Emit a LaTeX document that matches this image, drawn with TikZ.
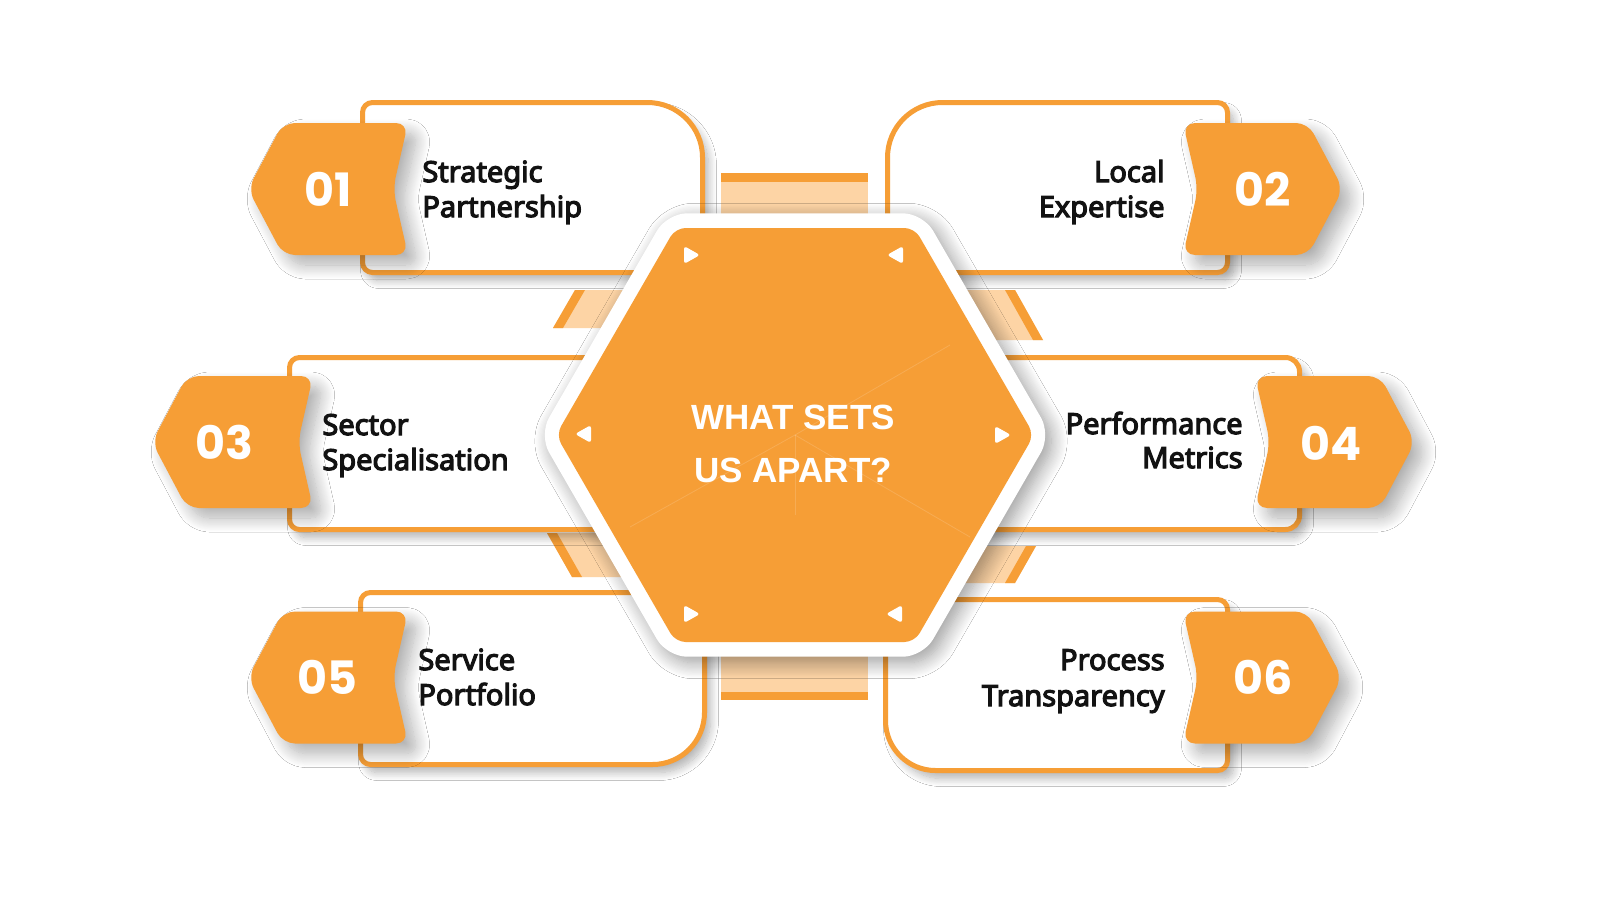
\documentclass[tikz,border=0pt]{standalone}
\usepackage{fontspec}
\setmainfont{Noto Sans}
\newfontfamily\cardfont{Noto Sans}[FakeBold=4]
\newfontfamily\hexfont{Liberation Sans}
\newfontfamily\numfont{Poppins}
\usetikzlibrary{shadows.blur}
\definecolor{orng}{RGB}{246,158,54}
\definecolor{peach}{RGB}{253,212,165}
\definecolor{ink}{RGB}{18,18,18}
\tikzset{
  cardbox/.style={draw=orng, line width=2.5pt, fill=white,
    blur shadow={shadow xshift=3pt, shadow yshift=-4pt, shadow blur radius=4pt, shadow blur steps=12, shadow opacity=30}},
  badgebox/.style={fill=orng, rounded corners=6pt,
    blur shadow={shadow xshift=5pt, shadow yshift=-5pt, shadow blur radius=7pt, shadow blur steps=16, shadow opacity=32}},
  hexouter/.style={fill=white, rounded corners=10pt,
    blur shadow={shadow xshift=3pt, shadow yshift=-3pt, shadow blur radius=8pt, shadow blur steps=14, shadow opacity=40}},
  hexinner/.style={fill=orng, rounded corners=5pt},
  numtext/.style={text=white, font=\numfont\bfseries\fontsize{23}{23}\selectfont, inner sep=0},
  cardtext/.style={text=ink, font=\cardfont\fontsize{14.5}{17.5}\selectfont, inner sep=0},
  hextext/.style={text=white, font=\hexfont\bfseries\fontsize{17.5}{26.5}\selectfont, inner sep=0},
  armfill/.style={fill=peach},
  armstripe/.style={fill=orng},
  tri/.style={fill=white, rounded corners=1.5pt},
  faint/.style={draw=white, opacity=0.15, line width=0.4pt},
}
% card: x1 y1 x2 y2 rTL rTR rBR rBL (pixel coords, y down)
\newcommand\cardshape[8]{%
  \draw[cardbox] (#1,#2+#5) arc[start angle=180,end angle=270,radius=#5]
    -- (#3-#6,#2) arc[start angle=270,end angle=360,radius=#6]
    -- (#3,#4-#7) arc[start angle=0,end angle=90,radius=#7]
    -- (#1+#8,#4) arc[start angle=90,end angle=180,radius=#8] -- cycle;}
% badge pointing left: tipx rightx yc
\newcommand\badgeleft[3]{%
  \fill[badgebox] (#1,#3) -- (#1+35,#3-66) -- (#2,#3-66) -- (#2-15,#3)
    -- (#2,#3+66) -- (#1+35,#3+66) -- cycle;}
% badge pointing right: leftx tipx yc
\newcommand\badgeright[3]{%
  \fill[badgebox] (#2,#3) -- (#2-35,#3-66) -- (#1,#3-66) -- (#1+15,#3)
    -- (#1,#3+66) -- (#2-35,#3+66) -- cycle;}
\newcommand\triR[2]{\fill[tri] (#1-7,#2-9) -- (#1+9,#2) -- (#1-7,#2+9) -- cycle;}
\newcommand\triL[2]{\fill[tri] (#1+7,#2-9) -- (#1-9,#2) -- (#1+7,#2+9) -- cycle;}

\begin{document}
\begin{tikzpicture}[x=0.5pt, y=-0.5pt]
\useasboundingbox (0,0) rectangle (1600,900);
\fill[white] (0,0) rectangle (1600,900);

% ---- arms behind everything ----
\fill[armfill] (721,182) rectangle (868,320);
\fill[armstripe] (721,173) rectangle (868,182);
\fill[armfill] (721,560) rectangle (868,692);
\fill[armstripe] (721,692) rectangle (868,700);
% upper-left
\fill[armfill] (553,328) -- (575,290) -- (700,290) -- (700,328) -- cycle;
\fill[armstripe] (553,328) -- (575,290) -- (585,290) -- (563,328) -- cycle;
% upper-right
\fill[armfill] (1043,340) -- (1015,290) -- (900,290) -- (900,340) -- cycle;
\fill[armstripe] (1043,340) -- (1015,290) -- (1005,290) -- (1033,340) -- cycle;
% lower-left
\fill[armfill] (547,533) -- (572,577) -- (700,577) -- (700,533) -- cycle;
\fill[armstripe] (547,533) -- (557,533) -- (582,577) -- (572,577) -- cycle;
% lower-right
\fill[armfill] (1036,546) -- (1015,583) -- (900,583) -- (900,546) -- cycle;
\fill[armstripe] (1036,546) -- (1026,546) -- (1005,583) -- (1015,583) -- cycle;

% ---- cards ----
\cardshape{362.5}{102.5}{702.5}{272.5}{10}{55}{12}{10}
\cardshape{887.5}{102.5}{1227.5}{272.5}{55}{10}{10}{12}
\cardshape{289.5}{357.5}{680}{529.5}{10}{10}{10}{10}
\cardshape{910}{357.5}{1299.5}{529.5}{10}{14}{14}{10}
\cardshape{360.5}{592.5}{704.5}{764.5}{10}{12}{52}{10}
\cardshape{885.5}{599.5}{1227.5}{770.5}{12}{10}{10}{50}

% ---- central hexagon ----
\coordinate (hc) at (795,435);
\fill[hexouter] (1051,435) -- (923,213.3) -- (667,213.3) -- (539,435) -- (667,656.7) -- (923,656.7) -- cycle;
\fill[hexinner] (1034,435) -- (914.5,228) -- (675.5,228) -- (556,435) -- (675.5,642) -- (914.5,642) -- cycle;
\coordinate (f1) at (950,345);
\coordinate (f2) at (630,527);
\coordinate (f3) at (970,537);
\coordinate (f4) at (795,515);
\draw[faint] (hc) -- (f1);
\draw[faint] (hc) -- (f2);
\draw[faint] (hc) -- (f3);
\draw[faint] (hc) -- (f4);
\triR{691}{255}
\triL{896}{255}
\triL{584}{434}
\triR{1002}{435}
\triR{691}{614}
\triL{895}{614}
\node[hextext, anchor=base] (h1) at (793,429) {WHAT SETS};
\node[hextext, anchor=base] (h2) at (793,482) {US APART?};

% ---- badges ----
\badgeleft{248}{408}{189}
\badgeright{1183}{1343}{189}
\badgeleft{152}{313}{442}
\badgeright{1255}{1415}{442}
\badgeleft{248}{408}{677.5}
\badgeright{1183}{1342}{677.5}
\node[numtext] (n1) at (328,189) {01};
\node[numtext] (n2) at (1263,189) {02};
\node[numtext] (n3) at (224,442) {03};
\node[numtext] (n4) at (1331,443) {04};
\node[numtext] (n5) at (327,677) {05};
\node[numtext] (n6) at (1263,677) {06};

% ---- card texts ----
\node[cardtext, anchor=base west] (t1a) at (422,182) {Strategic};
\node[cardtext, anchor=base west] (t1b) at (422,217) {Partnership};
\node[cardtext, anchor=base east] (t2a) at (1165,182) {Local};
\node[cardtext, anchor=base east] (t2b) at (1165,217) {Expertise};
\node[cardtext, anchor=base west] (t3a) at (322,435) {Sector};
\node[cardtext, anchor=base west] (t3b) at (322,470) {Specialisation};
\node[cardtext, anchor=base east] (t4a) at (1243,434) {Performance};
\node[cardtext, anchor=base east] (t4b) at (1243,468) {Metrics};
\node[cardtext, anchor=base west] (t5a) at (418,670) {Service};
\node[cardtext, anchor=base west] (t5b) at (418,705) {Portfolio};
\node[cardtext, anchor=base east] (t6a) at (1165,670) {Process};
\node[cardtext, anchor=base east] (t6b) at (1165,706) {Transparency};
\end{tikzpicture}
\end{document}
